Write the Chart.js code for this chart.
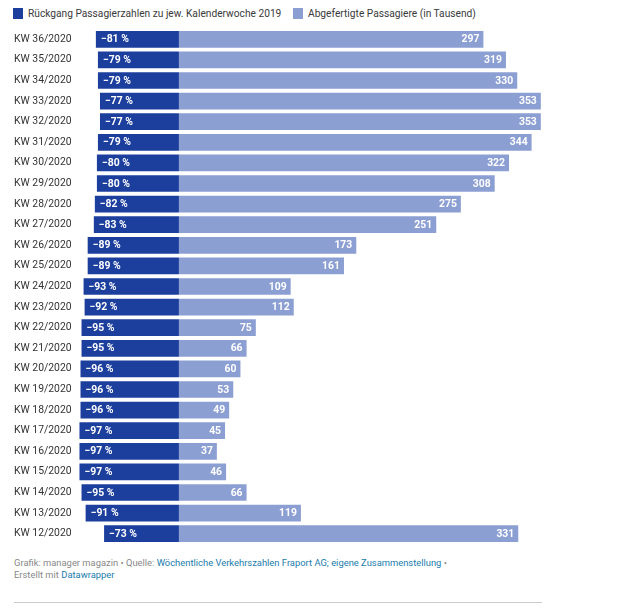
<!DOCTYPE html>
<html>
<head>
<meta charset="utf-8">
<script src="https://cdn.jsdelivr.net/npm/chart.js@4/dist/chart.umd.min.js"></script>
<style>
  html, body { margin: 0; padding: 0; background: #fff; }
  body { width: 640px; height: 614px; position: relative; font-family: Roboto, "Noto Sans", sans-serif; overflow: hidden; }
  .sw { position: absolute; width: 10px; height: 11px; top: 8px; }
  .lt { position: absolute; top: 7px; font-size: 10.2px; line-height: 14px; color: #3a3a3a; white-space: nowrap; }
  #wrap { position: absolute; top: 29px; left: 0; width: 640px; height: 515px; }
  #footer { position: absolute; top: 557px; left: 14px; font-size: 9.4px; line-height: 12px; color: #888; white-space: nowrap; }
  #footer a { color: #1a7cab; text-decoration: none; }
  #rule { position: absolute; top: 602px; left: 14px; width: 528px; height: 1px; background: #ccc; }
</style>
</head>
<body>
<div id="legend"></div>
<div id="wrap"><canvas id="c"></canvas></div>
<div id="footer">Grafik: manager magazin • Quelle: <a>Wöchentliche Verkehrszahlen Fraport AG; eigene Zusammenstellung</a> •<br>Erstellt mit <a>Datawrapper</a></div>
<div id="rule"></div>
<script>
const categories = ["KW 36/2020","KW 35/2020","KW 34/2020","KW 33/2020","KW 32/2020","KW 31/2020","KW 30/2020","KW 29/2020","KW 28/2020","KW 27/2020","KW 26/2020","KW 25/2020","KW 24/2020","KW 23/2020","KW 22/2020","KW 21/2020","KW 20/2020","KW 19/2020","KW 18/2020","KW 17/2020","KW 16/2020","KW 15/2020","KW 14/2020","KW 13/2020","KW 12/2020"];
const declinePct = [-81,-79,-79,-77,-77,-79,-80,-80,-82,-83,-89,-89,-93,-92,-95,-95,-96,-96,-96,-97,-97,-97,-95,-91,-73];
const passengers = [297,319,330,353,353,344,322,308,275,251,173,161,109,112,75,66,60,53,49,45,37,46,66,119,331];
const seriesNames = ["Rückgang Passagierzahlen zu jew. Kalenderwoche 2019", "Abgefertigte Passagiere (in Tausend)"];
const colors = ["#1c3f9e", "#8c9fd3"];

// HTML legend
const lg = document.getElementById('legend');
const legendPos = [[13, 28], [293, 308]];
seriesNames.forEach((n, i) => {
  const sw = document.createElement('div'); sw.className = 'sw';
  sw.style.background = colors[i]; sw.style.left = legendPos[i][0] + 'px';
  const tx = document.createElement('div'); tx.className = 'lt';
  tx.style.left = legendPos[i][1] + 'px'; tx.textContent = n;
  lg.appendChild(sw); lg.appendChild(tx);
});

const labelPlugin = {
  id: 'barLabels',
  afterDatasetsDraw(chart) {
    const ctx = chart.ctx;
    ctx.save();
    ctx.font = 'bold 10.4px Roboto, "Noto Sans", sans-serif';
    ctx.fillStyle = '#fff';
    ctx.textBaseline = 'middle';
    chart.data.datasets.forEach((ds, di) => {
      const meta = chart.getDatasetMeta(di);
      meta.data.forEach((el, i) => {
        const v = ds.data[i];
        if (di === 0) {
          ctx.textAlign = 'left';
          ctx.fillText('\u2212' + Math.abs(v) + ' %', el.x + 5, el.y + 0.5);
        } else {
          ctx.textAlign = 'right';
          ctx.fillText(String(v), el.x - 4, el.y + 0.5);
        }
      });
    });
    ctx.restore();
  }
};

new Chart(document.getElementById('c'), {
  type: 'bar',
  data: {
    labels: categories,
    datasets: [
      { label: seriesNames[0], data: declinePct, backgroundColor: colors[0], borderWidth: 0 },
      { label: seriesNames[1], data: passengers, backgroundColor: colors[1], borderWidth: 0 }
    ]
  },
  options: {
    indexAxis: 'y',
    responsive: true,
    maintainAspectRatio: false,
    animation: false,
    datasets: { bar: { barPercentage: 0.81, categoryPercentage: 1 } },
    layout: { padding: { left: 14, right: 51, top: 0, bottom: 0 } },
    plugins: { legend: { display: false }, tooltip: { enabled: false } },
    scales: {
      x: { stacked: true, display: false, min: -100, max: 400 },
      y: {
        stacked: true,
        grid: { display: false },
        border: { display: false },
        ticks: { crossAlign: 'far', color: '#333', font: { family: 'Roboto, "Noto Sans", sans-serif', size: 10.4 }, padding: 0 },
        afterFit(scale) { scale.width = 62.4; scale.paddingTop = 0; scale.paddingBottom = 0; }
      }
    }
  },
  plugins: [labelPlugin]
});
</script>
</body>
</html>
